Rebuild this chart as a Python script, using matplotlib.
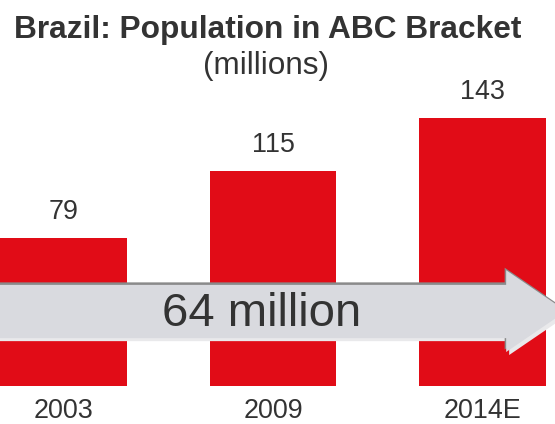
import matplotlib
matplotlib.use("Agg")
import matplotlib.pyplot as plt
from matplotlib.patches import Polygon
from matplotlib import transforms

# Population in the ABC bracket, millions
years = ["2003", "2009", "2014E"]
population = [79, 115, 143]

title = "Brazil: Population in ABC Bracket"
subtitle = "(millions)"

BAR_RED = "#e10c17"
TEXT_DARK = "#333333"
ARROW_FILL = "#d9dadf"

plt.rcParams["font.family"] = ["Liberation Sans", "DejaVu Sans"]

fig = plt.figure(figsize=(5.55, 4.24), dpi=100)
ax = fig.add_axes([0, 38 / 424, 1, 386 / 424])

x = list(range(len(years)))
ax.bar(x, population, width=0.605, color=BAR_RED, zorder=2)

ax.set_xlim(-0.3025, 2.345)
ax.set_ylim(0, 206)
ax.set_xticks(x)
ax.set_xticklabels(years, fontsize=19.4, color=TEXT_DARK)
ax.tick_params(axis="x", length=0, pad=9)
ax.set_yticks([])
for s in ax.spines.values():
    s.set_visible(False)

# value labels above the bars
for xi, v in zip(x, population):
    ax.annotate(f"{v}", (xi, v), xytext=(0, 13.5), textcoords="offset points",
                ha="center", va="baseline", fontsize=19.4, color=TEXT_DARK)

# growth arrow across the bars (axes-fraction geometry)
shaft_top, shaft_bot = 0.262, 0.124
head_top, head_bot = 0.300, 0.088
head_x, tip_x, tip_y = 0.912, 1.02, 0.194
arrow_pts = [(-0.02, shaft_top), (head_x, shaft_top), (head_x, head_top),
             (tip_x, tip_y), (head_x, head_bot), (head_x, shaft_bot),
             (-0.02, shaft_bot)]

light_shadow = transforms.offset_copy(ax.transAxes, fig=fig, x=3, y=-3, units="dots")
dark_shadow = transforms.offset_copy(ax.transAxes, fig=fig, x=-1.5, y=2.5, units="dots")
ax.add_patch(Polygon(arrow_pts, closed=True, transform=light_shadow,
                     facecolor="#e9e9eb", edgecolor="none", zorder=3))
ax.add_patch(Polygon(arrow_pts, closed=True, transform=dark_shadow,
                     facecolor="#8a8a8a", edgecolor="none", zorder=3))
ax.add_patch(Polygon(arrow_pts, closed=True, transform=ax.transAxes,
                     facecolor=ARROW_FILL, edgecolor="none", zorder=4))

growth = population[-1] - population[0]
ax.text(262 / 555, 0.187, f"{growth} million", transform=ax.transAxes,
        ha="center", va="center", fontsize=34, color=TEXT_DARK, zorder=5)

fig.text(268 / 555, 1 - 38 / 424, title, ha="center", va="baseline",
         fontsize=22.8, fontweight="bold", color=TEXT_DARK)
fig.text(266 / 555, 1 - 74 / 424, subtitle, ha="center", va="baseline",
         fontsize=22.7, color=TEXT_DARK)

fig.savefig("out.png", dpi=100)
